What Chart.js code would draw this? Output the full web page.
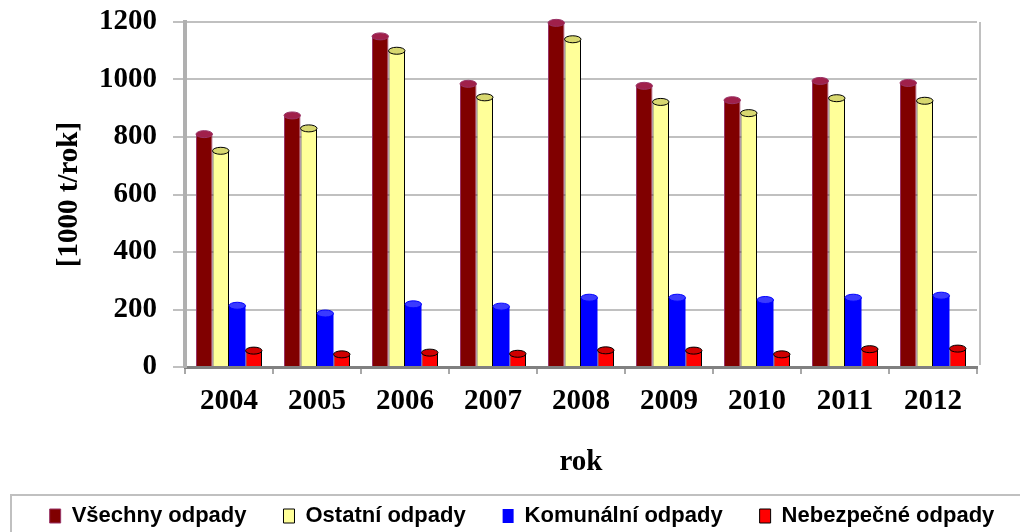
<!DOCTYPE html>
<html>
<head>
<meta charset="utf-8">
<script src="https://cdn.jsdelivr.net/npm/chart.js@4.4.0/dist/chart.umd.min.js"></script>
<style>
    html, body { margin: 0; padding: 0; background: #fff; }
</style>
</head>
<body>
<canvas id="Chart" width="1020" height="532"></canvas>
<script>
// data
const years = ['2004', '2005', '2006', '2007', '2008', '2009', '2010', '2011', '2012'];
const vsechny = [810, 875, 1150, 985, 1197, 978, 928, 995, 988];
const ostatni = [752, 830, 1100, 938, 1140, 922, 883, 935, 926];
const komunalni = [213, 186, 218, 210, 241, 241, 233, 241, 248];
const nebezpecne = [57, 44, 50, 46, 58, 57, 44, 62, 64];
const yTicks = [0, 200, 400, 600, 800, 1000, 1200];

const serif = 'Liberation Serif';
const sans = 'Liberation Sans';

// lighter/darker caps for the cylinder look
const topColors = ['#a0204a', '#d8d870', '#3a3aff', '#d00000'];

const cylinderTops = {
    id: 'cylinderTops',
    afterDatasetsDraw(chart) {
        const ctx = chart.ctx;
        chart.data.datasets.forEach((ds, i) => {
            const meta = chart.getDatasetMeta(i);
            meta.data.forEach(bar => {
                ctx.save();
                ctx.beginPath();
                ctx.ellipse(bar.x, bar.y, bar.width / 2, 3.5, 0, 0, Math.PI * 2);
                ctx.fillStyle = topColors[i];
                ctx.fill();
                ctx.lineWidth = 1;
                ctx.strokeStyle = ds.borderColor;
                ctx.stroke();
                ctx.restore();
            });
        });
    }
};

const frames = {
    id: 'frames',
    beforeDatasetsDraw(chart) {
        const ctx = chart.ctx;
        const a = chart.chartArea;
        ctx.save();
        ctx.strokeStyle = '#c0c0c0';
        ctx.lineWidth = 2;
        ctx.beginPath();
        ctx.moveTo(a.right + 3, a.top);
        ctx.lineTo(a.right + 3, a.bottom - 2);
        ctx.stroke();
        ctx.restore();
    },
    afterDraw(chart) {
        const ctx = chart.ctx;
        const lg = chart.legend;
        const top = lg.legendHitBoxes[0].top - 10;
        ctx.save();
        ctx.strokeStyle = '#c0c0c0';
        ctx.lineWidth = 2;
        ctx.strokeRect(11, top, 1030, 60);
        ctx.restore();
    }
};

const ctx = document.getElementById('Chart').getContext('2d');
const chart = new Chart(ctx, {
    type: 'bar',
    data: {
        labels: years,
        datasets: [
            { label: 'Všechny odpady', data: vsechny, backgroundColor: '#800000', borderColor: '#993366', borderWidth: 1 },
            { label: 'Ostatní odpady', data: ostatni, backgroundColor: '#ffff99', borderColor: '#000000', borderWidth: 1 },
            { label: 'Komunální odpady', data: komunalni, backgroundColor: '#0000ff', borderColor: '#0000ff', borderWidth: 0 },
            { label: 'Nebezpečné odpady', data: nebezpecne, backgroundColor: '#ff0000', borderColor: '#000000', borderWidth: 1 }
        ]
    },
    options: {
        responsive: false,
        animation: false,
        categoryPercentage: 0.75,
        barPercentage: 1.0,
        layout: { padding: { top: 22, right: -12, bottom: -5, left: 12 } },
        plugins: {
            tooltip: { enabled: false },
            legend: {
                position: 'bottom',
                labels: {
                    color: '#000',
                    font: { family: sans, size: 22, weight: 'bold' },
                    boxWidth: 11,
                    boxHeight: 14,
                    padding: 37
                }
            }
        },
        scales: {
            x: {
                grid: { display: true, drawOnChartArea: false, color: '#a8a8a8', lineWidth: 2, tickLength: 7 },
                border: { color: '#808080', width: 3 },
                ticks: { color: '#000', font: { family: serif, size: 29, weight: 'bold' }, padding: 10 },
                title: { display: true, text: 'rok', color: '#000', font: { family: serif, size: 29, weight: 'bold' }, padding: { top: 0, bottom: -12 } },
                afterFit(scale) { scale.height = 101; }
            },
            y: {
                min: 0,
                max: 1200,
                afterBuildTicks(scale) { scale.ticks = yTicks.map(v => ({ value: v })); },
                grid: { color: '#c0c0c0', lineWidth: 2, tickLength: 12 },
                border: { color: '#b0b0b0', width: 4 },
                ticks: {
                    color: '#000',
                    font: { family: serif, size: 29, weight: 'bold', lineHeight: 0.4 },
                    padding: 16,
                    callback: v => String(v)
                },
                title: { display: true, text: '[1000 t/rok]', color: '#000', font: { family: serif, size: 29, weight: 'bold' }, padding: { top: 40, bottom: 0 } },
                afterFit(scale) { scale.width = 173; }
            },
            // empty right-hand axis only reserves the gap right of the plot
            yRight: {
                position: 'right',
                min: 0,
                max: 1200,
                grid: { drawOnChartArea: false, drawTicks: false },
                border: { display: false },
                ticks: { display: false },
                afterFit(scale) { scale.width = 55; }
            }
        }
    },
    plugins: [frames, cylinderTops]
});
</script>
</body>
</html>
